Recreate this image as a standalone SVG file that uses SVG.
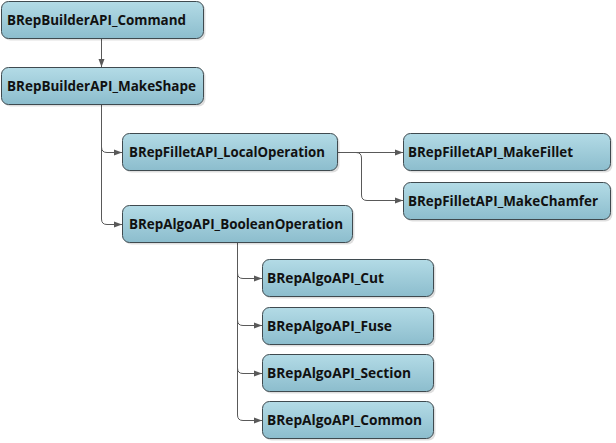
<svg xmlns="http://www.w3.org/2000/svg" width="616" height="443" viewBox="0 0 616 443">
<defs>
<linearGradient id="g" x1="0" y1="0" x2="0" y2="1">
<stop offset="0" stop-color="#b3dbe6"/>
<stop offset="1" stop-color="#8cbdcd"/>
</linearGradient>
<marker id="arr" viewBox="0 0 8 8" refX="8" refY="4" markerWidth="8" markerHeight="8" markerUnits="userSpaceOnUse" orient="auto">
<path d="M0,1 L8,4 L0,7 Z" fill="#595959"/>
</marker>
</defs>
<style>
.box{fill:url(#g);stroke:#3f4a4f;stroke-width:1;}
.sh{fill:#000;opacity:0.13;}
.t{font-family:"Open Sans","DejaVu Sans",sans-serif;font-weight:bold;font-size:14px;fill:#111;}
.c{fill:none;stroke:#595959;stroke-width:1;marker-end:url(#arr);}
</style>
<rect width="616" height="443" fill="#fff"/>
<g id="connectors">
<path class="c" d="M101.5,39 V67"/>
<path class="c" d="M101.5,105 V147 Q101.5,152.5 107,152.5 H122"/>
<path class="c" d="M101.5,105 V219 Q101.5,224.5 107,224.5 H122"/>
<path class="c" d="M338,152.5 H403"/>
<path class="c" d="M338,152.5 H356 Q361.5,152.5 361.5,158 V195 Q361.5,200.5 367,200.5 H403"/>
<path class="c" d="M237.5,243 V273 Q237.5,278.5 243,278.5 H262"/>
<path class="c" d="M237.5,243 V320 Q237.5,325.5 243,325.5 H262"/>
<path class="c" d="M237.5,243 V368 Q237.5,373.5 243,373.5 H262"/>
<path class="c" d="M237.5,243 V415 Q237.5,420.5 243,420.5 H262"/>
</g>
<g id="n1"><rect class="sh" x="3.5" y="3.5" width="202" height="37" rx="7"/><rect class="box" x="1.5" y="1.5" width="202" height="37" rx="7"/><text class="t" x="7" y="25" textLength="179" lengthAdjust="spacingAndGlyphs">BRepBuilderAPI_Command</text></g>
<g id="n2"><rect class="sh" x="3.5" y="69.5" width="202" height="37" rx="7"/><rect class="box" x="1.5" y="67.5" width="202" height="37" rx="7"/><text class="t" x="7" y="91" textLength="189" lengthAdjust="spacingAndGlyphs">BRepBuilderAPI_MakeShape</text></g>
<g id="n3"><rect class="sh" x="124.5" y="135.5" width="215" height="37" rx="7"/><rect class="box" x="122.5" y="133.5" width="215" height="37" rx="7"/><text class="t" x="129" y="157" textLength="196" lengthAdjust="spacingAndGlyphs">BRepFilletAPI_LocalOperation</text></g>
<g id="n4"><rect class="sh" x="124.5" y="207.5" width="230" height="37" rx="7"/><rect class="box" x="122.5" y="205.5" width="230" height="37" rx="7"/><text class="t" x="129" y="229" textLength="214" lengthAdjust="spacingAndGlyphs">BRepAlgoAPI_BooleanOperation</text></g>
<g id="n5"><rect class="sh" x="405.5" y="135.5" width="207" height="37" rx="7"/><rect class="box" x="403.5" y="133.5" width="207" height="37" rx="7"/><text class="t" x="408" y="157" textLength="165" lengthAdjust="spacingAndGlyphs">BRepFilletAPI_MakeFillet</text></g>
<g id="n6"><rect class="sh" x="405.5" y="184.5" width="207" height="37" rx="7"/><rect class="box" x="403.5" y="182.5" width="207" height="37" rx="7"/><text class="t" x="408" y="206" textLength="190" lengthAdjust="spacingAndGlyphs">BRepFilletAPI_MakeChamfer</text></g>
<g id="n7"><rect class="sh" x="264.5" y="261.5" width="171" height="37" rx="7"/><rect class="box" x="262.5" y="259.5" width="171" height="37" rx="7"/><text class="t" x="267" y="283" textLength="117" lengthAdjust="spacingAndGlyphs">BRepAlgoAPI_Cut</text></g>
<g id="n8"><rect class="sh" x="264.5" y="309.5" width="171" height="37" rx="7"/><rect class="box" x="262.5" y="307.5" width="171" height="37" rx="7"/><text class="t" x="267" y="331" textLength="125" lengthAdjust="spacingAndGlyphs">BRepAlgoAPI_Fuse</text></g>
<g id="n9"><rect class="sh" x="264.5" y="356.5" width="171" height="37" rx="7"/><rect class="box" x="262.5" y="354.5" width="171" height="37" rx="7"/><text class="t" x="267" y="378" textLength="144" lengthAdjust="spacingAndGlyphs">BRepAlgoAPI_Section</text></g>
<g id="n10"><rect class="sh" x="264.5" y="403.5" width="171" height="37" rx="7"/><rect class="box" x="262.5" y="401.5" width="171" height="37" rx="7"/><text class="t" x="267" y="425" textLength="155" lengthAdjust="spacingAndGlyphs">BRepAlgoAPI_Common</text></g>
</svg>
